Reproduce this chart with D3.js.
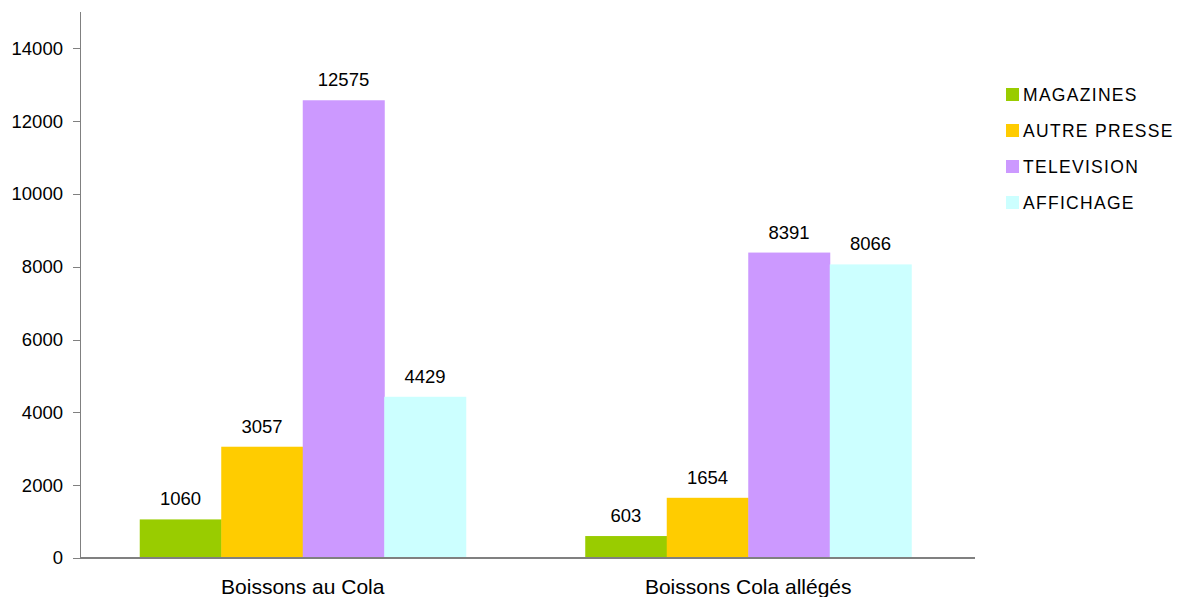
<!DOCTYPE html>
<html>
<head>
<meta charset="utf-8">
<script src="https://cdn.jsdelivr.net/npm/d3@7"></script>
<style>
  body { margin: 0; background: #fff; }
  text { font-family: "Liberation Sans", Arial, sans-serif; fill: #000; }
</style>
</head>
<body>
<div id="chart-area"></div>
<script>
// data
var categories = ["Boissons au Cola", "Boissons Cola allégés"];
var series = ["MAGAZINES", "AUTRE PRESSE", "TELEVISION", "AFFICHAGE"];
var magazines = [1060, 603];
var autrePresse = [3057, 1654];
var television = [12575, 8391];
var affichage = [4429, 8066];
var yTicks = [0, 2000, 4000, 6000, 8000, 10000, 12000, 14000];
var colors = ["#99cc00", "#ffcc00", "#cc99ff", "#ccffff"];

var width = 1179, height = 597;
var plotLeft = 80, plotRight = 975, plotTop = 12, plotBottom = 558;

var svg = d3.select("#chart-area")
    .append("svg")
        .attr("width", width)
        .attr("height", height);

var values = [magazines, autrePresse, television, affichage];
var data = categories.map(function (c, i) {
    return { cat: c, vals: series.map(function (s, j) { return { key: s, value: values[j][i], idx: j }; }) };
});

var x0 = d3.scaleBand().domain(categories).range([plotLeft, 971]);
var x1 = d3.scaleBand().domain(series).range([0, x0.bandwidth()]).paddingOuter(0.733);
var y = d3.scaleLinear().domain([0, 15000]).range([plotBottom, plotTop]);

// bars
var groups = svg.selectAll("g.cat")
    .data(data)
    .enter().append("g")
        .attr("class", "cat")
        .attr("transform", function (d) { return "translate(" + x0(d.cat) + ",0)"; });

groups.selectAll("rect")
    .data(function (d) { return d.vals; })
    .enter().append("rect")
        .attr("x", function (d) { return x1(d.key); })
        .attr("y", function (d) { return y(d.value); })
        .attr("width", x1.bandwidth() + 0.5)
        .attr("height", function (d) { return plotBottom - y(d.value); })
        .attr("fill", function (d) { return colors[d.idx]; });

groups.selectAll("text.val")
    .data(function (d) { return d.vals; })
    .enter().append("text")
        .attr("class", "val")
        .attr("x", function (d) { return x1(d.key) + x1.bandwidth() / 2; })
        .attr("y", function (d) { return y(d.value) - 14; })
        .attr("text-anchor", "middle")
        .attr("font-size", "18.5px")
        .text(function (d) { return d.value; });

// left axis
var leftAxis = d3.axisLeft(y).tickValues(yTicks).tickSize(7).tickPadding(10).tickFormat(function (d) { return d; });
var ga = svg.append("g")
    .attr("class", "left axis")
    .attr("transform", "translate(" + plotLeft + ",0)")
    .call(leftAxis);
ga.select(".domain").remove();
ga.selectAll("line").attr("stroke", "#808080").attr("shape-rendering", "crispEdges");
ga.selectAll("text").attr("font-size", "18.5px").attr("font-family", "Liberation Sans, Arial, sans-serif").attr("fill", "#000");

svg.append("line")
    .attr("x1", plotLeft).attr("x2", plotLeft)
    .attr("y1", plotTop).attr("y2", plotBottom)
    .attr("stroke", "#808080")
    .attr("shape-rendering", "crispEdges");

// baseline
svg.append("line")
    .attr("x1", plotLeft).attr("x2", plotRight)
    .attr("y1", plotBottom).attr("y2", plotBottom)
    .attr("stroke", "#808080")
    .attr("stroke-width", 1.5)
    .attr("shape-rendering", "crispEdges");

// category labels
svg.selectAll("text.catlabel")
    .data(categories)
    .enter().append("text")
        .attr("class", "catlabel")
        .attr("x", function (d) { return x0(d) + x0.bandwidth() / 2; })
        .attr("y", 594)
        .attr("text-anchor", "middle")
        .attr("font-size", "21px")
        .text(function (d) { return d; });

// legend
var legend = svg.selectAll("g.legend")
    .data(series)
    .enter().append("g")
        .attr("class", "legend")
        .attr("transform", function (d, i) { return "translate(1006," + (88 + i * 36) + ")"; });

legend.append("rect")
    .attr("width", 13).attr("height", 13)
    .attr("fill", function (d, i) { return colors[i]; });

legend.append("text")
    .attr("x", 17)
    .attr("y", 12.5)
    .attr("font-size", "17.5px")
    .attr("letter-spacing", "1.3px")
    .text(function (d) { return d; });
</script>
</body>
</html>
